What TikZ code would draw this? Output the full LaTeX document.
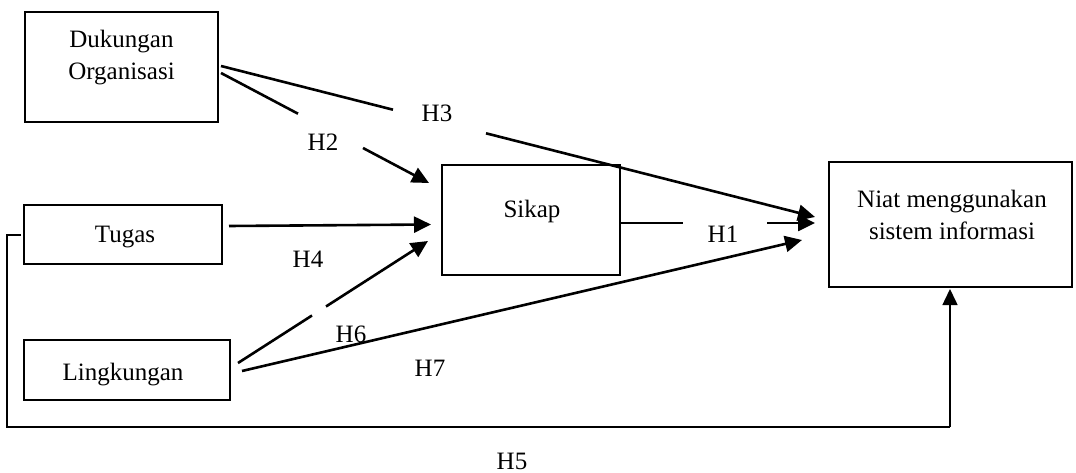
\documentclass[tikz,border=0pt]{standalone}
\usepackage{fontspec}
\setmainfont{Liberation Serif}
\usetikzlibrary{arrows.meta}
\begin{document}
\begin{tikzpicture}[x=1pt, y=-1pt,
  box/.style={draw, line width=2.4pt, inner sep=0pt, minimum width=#1},
  lbl/.style={inner sep=0pt, anchor=base, align=center,
              font=\fontsize{25}{32.5}\selectfont},
  link/.style={line width=2.6pt},
  arr/.style={line width=2.6pt, -{Triangle[length=17pt, width=16pt]}},
  thin/.style={line width=1.3pt},
  thinarr/.style={line width=1.5pt, -{Triangle[length=16pt, width=15pt]}}]
\useasboundingbox (0,0) rectangle (1076,473);

% construct boxes
\node[box=193pt, minimum height=110pt] (duk)  at (121.5,67)  {};
\node[box=198pt, minimum height=59pt]  (tug)  at (123,234.5) {};
\node[box=206pt, minimum height=60pt]  (ling) at (127,370)   {};
\node[box=178pt, minimum height=110pt] (sik)  at (531,220)   {};
\node[box=243pt, minimum height=125pt] (niat) at (950.5,224.5) {};

% construct names (base = baseline of the last line)
\node[lbl] (dukT)  at (121.5,80) {Dukungan\\Organisasi};
\node[lbl] (tugT)  at (125,242)  {Tugas};
\node[lbl] (lingT) at (123,380)  {Lingkungan};
\node[lbl] (sikT)  at (532,218)  {Sikap};
\node[lbl] (niatT) at (952,240)  {Niat menggunakan\\sistem informasi};

% hypothesis labels
\node[lbl] (h1) at (723,242) {H1};
\node[lbl] (h2) at (323,151) {H2};
\node[lbl] (h3) at (437,122) {H3};
\node[lbl] (h4) at (308,267) {H4};
\node[lbl] (h5) at (512,469) {H5};
\node[lbl] (h6) at (351,342) {H6};
\node[lbl] (h7) at (430,376) {H7};

% end points of the paths
\coordinate (h3s) at (221,66);  \coordinate (h3a) at (393,109.7);
\coordinate (h3b) at (486,133.3); \coordinate (h3e) at (815,217);
\coordinate (h2s) at (221,73);  \coordinate (h2a) at (298,113.7);
\coordinate (h2b) at (363,148); \coordinate (h2e) at (429,183);
\coordinate (h4s) at (229,226); \coordinate (h4e) at (431,224.5);
\coordinate (h1s) at (621,223); \coordinate (h1a) at (683,223);
\coordinate (h1b) at (767,223); \coordinate (h1e) at (815,223);
\coordinate (h6s) at (238,363); \coordinate (h6a) at (312,315.5);
\coordinate (h6b) at (326,306.5); \coordinate (h6e) at (428,241);
\coordinate (h7s) at (242,371); \coordinate (h7e) at (802,240);
\coordinate (h5s) at (21,235);  \coordinate (h5c1) at (7,235);
\coordinate (h5c2) at (7,427);  \coordinate (h5c3) at (950,427);
\coordinate (h5e) at (950,289);

% relations
\draw[link] (h3s) -- (h3a);
\draw[arr]  (h3b) -- (h3e);
\draw[link] (h2s) -- (h2a);
\draw[arr]  (h2b) -- (h2e);
\draw[arr]  (h4s) -- (h4e);
\draw[link] (h1s) -- (h1a);
\draw[arr]  (h1b) -- (h1e);
\draw[link] (h6s) -- (h6a);
\draw[arr]  (h6b) -- (h6e);
\draw[arr]  (h7s) -- (h7e);
\draw[thin] (h5s) -- (h5c1) -- (h5c2) -- (h5c3);
\draw[thinarr] (h5c3) -- (h5e);
\end{tikzpicture}
\end{document}
